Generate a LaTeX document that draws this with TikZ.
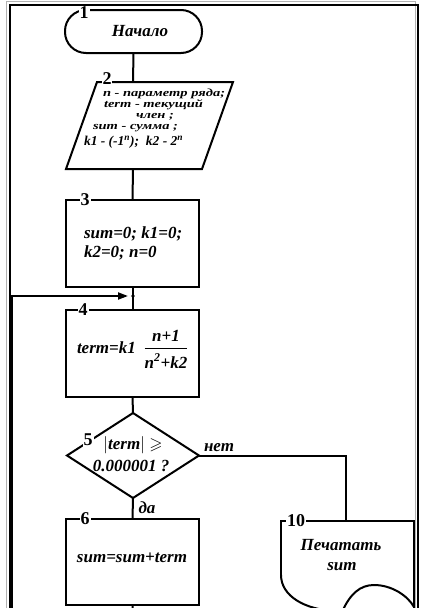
\documentclass[tikz,border=0pt]{standalone}
\usepackage{amsmath,amssymb}
\usepackage{graphicx}
\usepackage{fontspec}
\setmainfont{Liberation Serif}
\usetikzlibrary{shapes.geometric,arrows.meta}
\newcommand{\squash}[1]{\scalebox{1}[0.75]{#1}}
\begin{document}
\begin{tikzpicture}[x=1pt,y=-1pt,line width=2pt,line join=miter,
  box/.style={draw,rectangle,minimum width=133pt,minimum height=87pt,inner sep=0pt,outer sep=0pt},
  num/.style={fill=white,inner sep=1pt,font=\fontsize{18}{18}\selectfont\bfseries},
  txt/.style={inner sep=0pt,font=\fontsize{17}{18}\selectfont\bfseries\itshape},
  small/.style={inner sep=0pt,anchor=west,font=\fontsize{14.5}{15}\selectfont\bfseries\itshape},
  frameline/.style={line width=2pt},
  grayline/.style={line width=1pt,gray!60}]
\useasboundingbox (0,0) rectangle (427,608);
% frame
\draw[grayline] (6,620) -- (6,1) -- (415,1) -- (415,620);
\draw[frameline] (10,620) -- (10,5) -- (418,5) -- (418,620);
% 1 terminal
\node[draw,rectangle,rounded corners=21pt,minimum width=137pt,minimum height=43pt,inner sep=0pt,outer sep=0pt] (n1) at (133.5,31.5) {};
\node[txt] (t1) at (140,31) {Начало};
\node[num] (l1) at (84,13) {1};
% 2 parallelogram
\coordinate (p2t) at (133,82);
\coordinate (p2b) at (133,169);
\draw (97,82) -- (233,82) -- (202,169) -- (66,169) -- cycle;
\node[num,inner sep=0.5pt] (l2) at (107,79) {2};
\node[small] (t2a) at (102,94) {\squash{n - параметр ряда;}};
\node[small] (t2b) at (103,104.5) {\squash{term - текущий}};
\node[small] (t2c) at (135,116.5) {\squash{член ;}};
\node[small] (t2d) at (92,128) {\squash{sum - сумма ;}};
\node[small,font=\fontsize{13.5}{14}\selectfont\bfseries\itshape] (t2e) at (83,142) {k1 - (-1\textsuperscript{n});\ \ k2 - 2\textsuperscript{n}};
\draw (n1.south) -- (p2t);
% 3
\node[box] (n3) at (132.5,243.5) {};
\node[num] (l3) at (85,200) {3};
\node[txt,anchor=west] (t3a) at (83,234) {sum=0; k1=0;};
\node[txt,anchor=west] (t3b) at (83,253) {k2=0; n=0};
\draw (p2b) -- (n3.north);
% 4
\node[box] (n4) at (132.5,353.5) {};
\node[num] (l4) at (83,310) {4};
\node[txt,anchor=west] (t4a) at (76,348) {term=k1};
\node[txt] (t4b) at (166,349) {$\genfrac{}{}{1.6pt}{0}{\hbox{\bfseries\itshape n+1}}{\hbox{\bfseries\itshape n\textsuperscript{2}+k2}}$};
\draw (n3.south) -- (n4.north);
% loop
\coordinate (lb) at (12,620);
\coordinate (lp) at (12,296);
\coordinate (jn) at (133,296);
\draw[-{Triangle[length=10pt,width=7pt]}] (lb) -- (lp) -- ([xshift=-5pt]jn);
\fill (jn) circle (1.8pt);
% 5 decision
\node[draw,diamond,minimum width=132pt,minimum height=85pt,inner sep=0pt,outer sep=0pt] (n5) at (133,455.5) {};
\node[num] (l5) at (88,440) {5};
\node[txt] (t5a) at (133,445) {$|$term$|$ $\geqslant$};
\node[txt] (t5b) at (131,466) {0.000001 ?};
\node[txt] (ly) at (219,448) {нет};
\node[txt] (ld) at (147,508) {да};
\draw (n4.south) -- (n5.north);
% 6
\node[box,minimum height=86pt] (n6) at (132.5,562) {};
\node[num] (l6) at (85,519) {6};
\node[txt] (t6) at (132,558) {sum=sum+term};
\draw (n5.south) -- (n6.north);
\coordinate (n6b) at (133,620);
\draw (n6.south) -- (n6b);
% 10 document
\coordinate (c10) at (346,521);
\draw (281,575) -- (281,521) -- (414,521) -- (414,610);
\draw (281,575) .. controls (281,596) and (305,610) .. (336,611);
\draw (342,612) .. controls (350,594) and (360,585) .. (374,585) .. controls (392,585) and (408,596) .. (414,607);
\node[num] (l10) at (296,521) {10};
\node[txt] (t10a) at (341,545) {Печатать};
\node[txt] (t10b) at (342,567) {sum};
\draw (n5.east) -| (c10);
\end{tikzpicture}
\end{document}
